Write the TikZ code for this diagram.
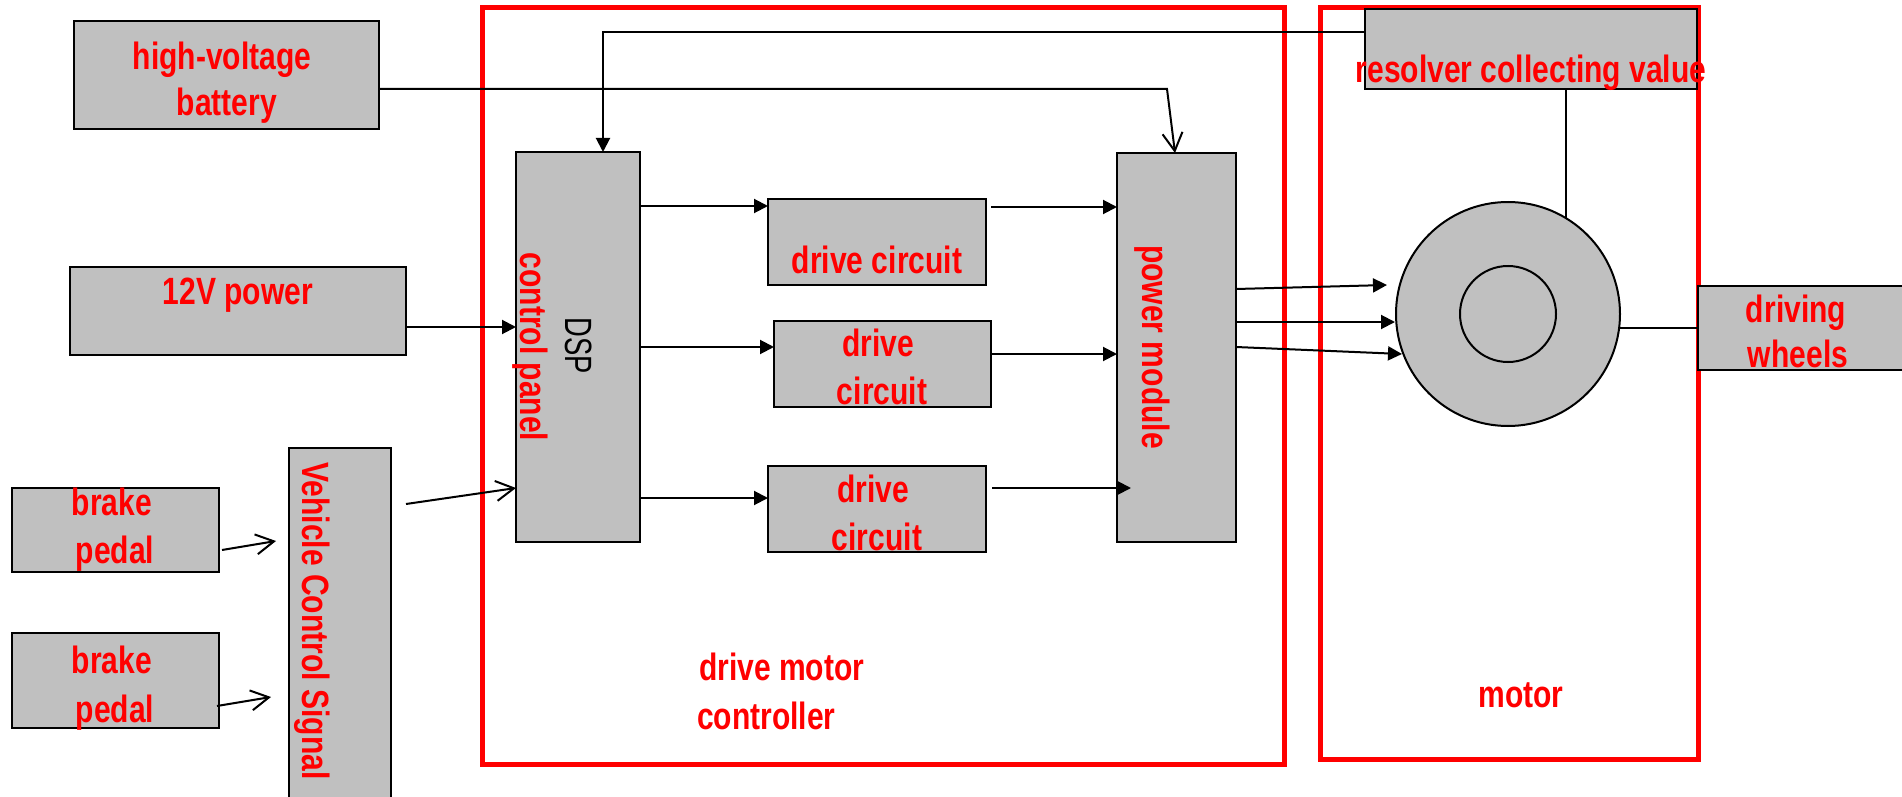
\documentclass[tikz,border=0pt]{standalone}
\usepackage{fontspec}
\setmainfont{Liberation Sans}
\newfontfamily\lblfont{Liberation Sans}[FakeStretch=0.79]
\newfontfamily\dspfont{Liberation Sans}[FakeStretch=0.72]
\usetikzlibrary{arrows.meta,calc}
\definecolor{boxgray}{HTML}{C0C0C0}
\definecolor{lblred}{HTML}{FF0000}
\begin{document}
\begin{tikzpicture}[x=0.5pt,y=-0.5pt,
  blk/.style={rectangle, draw=black, fill=boxgray, line width=1pt, inner sep=0pt, outer sep=0pt},
  frm/.style={rectangle, draw=lblred, line width=2.5pt, inner sep=0pt, outer sep=0pt},
  lbl/.style={text=lblred, font={\lblfont\bfseries\fontsize{19}{23}\selectfont}, inner sep=0pt, outer sep=0pt, anchor=base},
  dsplbl/.style={text=black, font={\dspfont\fontsize{19}{23}\selectfont}, inner sep=0pt, outer sep=0pt, anchor=base},
  wire/.style={draw=black, line width=1pt},
  farrow/.style={wire, -{Triangle[length=7pt,width=7pt]}},
  oarrow/.style={wire, -{Straight Barb[length=9pt,width=10pt,line width=1pt]}}
]
\useasboundingbox (0,0) rectangle (1902,797);
\fill[white] (0,0) rectangle (1902,797);

% red frames
\node[frm, minimum width=802*0.5pt, minimum height=756*0.5pt] (ctrlframe) at (883,386) {};
\node[frm, minimum width=378*0.5pt, minimum height=751*0.5pt] (motframe) at (1509,383.5) {};

% boxes
\node[blk, minimum width=305*0.5pt, minimum height=108*0.5pt] (hv) at (226.5,75) {};
\node[blk, minimum width=336*0.5pt, minimum height=88*0.5pt] (pw) at (238,311) {};
\node[blk, minimum width=207*0.5pt, minimum height=84*0.5pt] (bp1) at (115.5,530) {};
\node[blk, minimum width=207*0.5pt, minimum height=95*0.5pt] (bp2) at (115.5,680.5) {};
\node[blk, minimum width=102*0.5pt, minimum height=360*0.5pt] (vcs) at (340,628) {};
\node[blk, minimum width=124*0.5pt, minimum height=390*0.5pt] (dsp) at (578,347) {};
\node[blk, minimum width=218*0.5pt, minimum height=86*0.5pt] (dc1) at (877,242) {};
\node[blk, minimum width=217*0.5pt, minimum height=86*0.5pt] (dc2) at (882.5,364) {};
\node[blk, minimum width=218*0.5pt, minimum height=86*0.5pt] (dc3) at (877,509) {};
\node[blk, minimum width=119*0.5pt, minimum height=389*0.5pt] (pm) at (1176.5,347.5) {};
\node[blk, minimum width=332*0.5pt, minimum height=80*0.5pt] (res) at (1531,49) {};
\node[blk, minimum width=210*0.5pt, minimum height=84*0.5pt] (wheels) at (1803,328) {};
\node[blk, circle, minimum size=224*0.5pt] (mot) at (1508,314) {};
\node[circle, draw=black, line width=1pt, inner sep=0pt, outer sep=0pt, minimum size=96*0.5pt] (rotor) at (mot) {};

% connectors
\coordinate (hvbend) at (1167,89);
\draw[farrow] ($(res.west)+(0,-17)$) -| ($(dsp.north)+(25,0)$);
\draw[oarrow] ($(hv.east)+(0,14)$) -- (hvbend) -- ($(pm.north)+(-1.5,0)$);
\draw[farrow] ($(pw.east)+(0,16)$) -- ($(dsp.west)+(0,-20)$);
\draw[oarrow] ($(vcs.north east)+(15,56)$) -- ($(dsp.west)+(0,141)$);
\draw[oarrow] ($(bp1.east)+(3,20)$) -- ($(vcs.north west)+(-13,93)$);
\draw[oarrow] ($(bp2.east)+(-2,25.5)$) -- ($(vcs.north west)+(-18,249)$);
\draw[farrow] ($(dsp.east)+(0,-141)$) -- ($(dc1.west)+(0,-36)$);
\draw[farrow] (dsp.east) -- ($(dc2.west)+(0,-17)$);
\draw[farrow] ($(dsp.east)+(0,151)$) -- ($(dc3.west)+(0,-11)$);
\draw[farrow] ($(dc1.east)+(5,-35)$) -- ($(pm.west)+(0,-140.5)$);
\draw[farrow] ($(dc2.east)+(0,-10)$) -- ($(pm.west)+(0,6.5)$);
\draw[farrow] ($(dc3.east)+(6,-21)$) -- ($(pm.west)+(14,140.5)$);
\draw[farrow] ($(pm.east)+(0,-58.5)$) -- ($(mot.center)+(-121,-29)$);
\draw[farrow] ($(pm.east)+(0,-25.5)$) -- ($(mot.center)+(-113,8)$);
\draw[farrow] ($(pm.east)+(0,-0.5)$) -- ($(mot.center)+(-106,40)$);
\draw[wire] (mot.59 |- res.south) -- (mot.59);
\draw[wire] (wheels.west) -- (wheels.west -| mot.east);

% labels
\node[lbl] (thv1) at (222,70) {high-voltage};
\node[lbl] (thv2) at (227,116) {battery};
\node[lbl] (tpw) at (238,304) {12V power};
\node[lbl] (tbp1a) at (112,515) {brake};
\node[lbl] (tbp1b) at (115,563) {pedal};
\node[lbl] (tbp2a) at (112,673) {brake};
\node[lbl] (tbp2b) at (115,722) {pedal};
\node[lbl, rotate=-90] (tvcs) at (302,621) {Vehicle Control Signal};
\node[lbl, rotate=-90] (tcp) at (520,347) {control panel};
\node[dsplbl, rotate=-90] (tdsp) at (565,346) {DSP};
\node[lbl] (tdc1) at (877,273) {drive circuit};
\node[lbl] (tdc2a) at (878,356) {drive};
\node[lbl] (tdc2b) at (882,404) {circuit};
\node[lbl] (tdc3a) at (873,502) {drive};
\node[lbl] (tdc3b) at (877,550) {circuit};
\node[lbl, rotate=-90] (tpm) at (1142,347) {power module};
\node[lbl] (tres) at (1531,83) {resolver collecting value};
\node[lbl] (twh1) at (1796,322) {driving};
\node[lbl] (twh2) at (1798,367) {wheels};
\node[lbl, anchor=base west] (tdmc1) at (699,680) {drive motor};
\node[lbl, anchor=base west] (tdmc2) at (697,729) {controller};
\node[lbl] (tmot) at (1521,707) {motor};
\end{tikzpicture}
\end{document}
